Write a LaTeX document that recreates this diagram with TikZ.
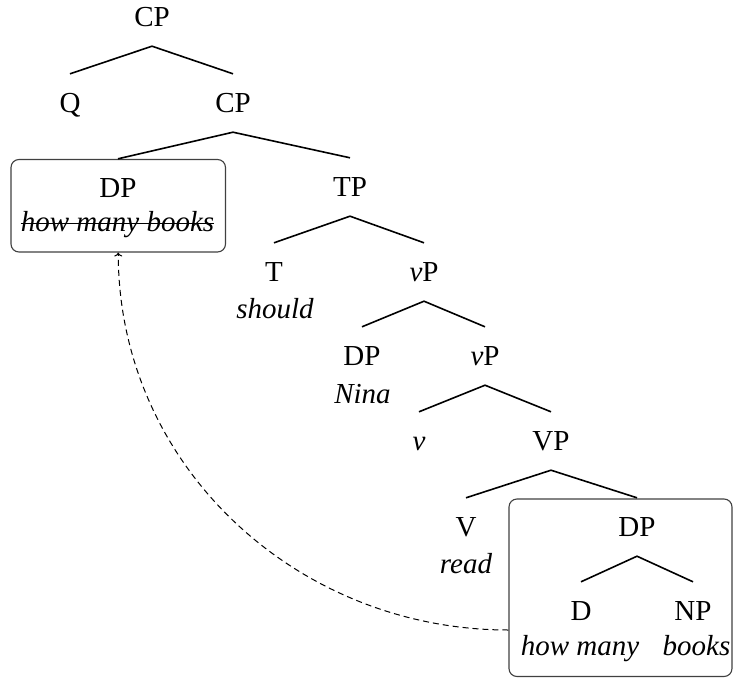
\documentclass[tikz,border=0pt]{standalone}
\usepackage{fontspec}
\setmainfont{Liberation Serif}
\newfontfamily\treefont{Liberation Serif}
\usetikzlibrary{arrows.meta}
\begin{document}
\begin{tikzpicture}[x=1pt,y=-1pt,
  font=\treefont\fontsize{29}{34}\selectfont,
  cat/.style={inner xsep=0pt, inner ysep=19.5pt, text height=19pt, text depth=0pt},
  word/.style={anchor=base, inner sep=0pt, font=\treefont\fontsize{29}{34}\selectfont\itshape},
  branch/.style={line width=1.6pt},
  hbox/.style={draw=black!75, line width=1.1pt, rounded corners=8pt, inner sep=0pt},
  move/.style={dash pattern=on 6pt off 4pt, line width=1pt, -{To[length=4pt,width=8pt]}}]
\useasboundingbox (0,0) rectangle (733,677);

% boxes around the moved phrase and its base position
\node[hbox, minimum width=214.5pt, minimum height=92.5pt] (b1) at (118.25,205.75) {};
\node[hbox, minimum width=223pt, minimum height=177.5pt] (b2) at (620.5,587.75) {};

% category labels
\node[cat] (cp1) at (152,17) {CP};
\node[cat] (q)   at (70,103) {Q};
\node[cat] (cp2) at (233,103) {CP};
\node[cat] (dpa) at (118,188) {DP};
\node[cat] (tp)  at (350,187) {TP};
\node[cat] (t)   at (274,272) {T};
\node[cat] (vp1) at (424,272) {\textit{v}P};
\node[cat] (dpb) at (362,356) {DP};
\node[cat] (vp2) at (485,356) {\textit{v}P};
\node[cat] (v)   at (419,441) {\textit{v}};
\node[cat] (vvp) at (551,441) {VP};
\node[cat] (vv)  at (466,527) {V};
\node[cat] (dpc) at (637,527) {DP};
\node[cat] (d)   at (581,611) {D};
\node[cat] (np)  at (693,611) {NP};

% lexical items
\node[word] (hmb)    at (117.5,231) {how many books};
\node[word] (should) at (275,318) {should};
\node[word] (nina)   at (362.5,403) {Nina};
\node[word] (read)   at (466,573) {read};
\node[word] (howm)   at (580,655) {how many};
\node[word] (books)  at (696.5,655) {books};

% strike-through on the unpronounced copy
\draw[line width=1pt] ([yshift=8pt]hmb.base west) -- ([yshift=8pt]hmb.base east);

% branches
\draw[branch] (q.north) -- (cp1.south) -- (cp2.north);
\draw[branch] (dpa.north) -- (cp2.south) -- (tp.north);
\draw[branch] (t.north) -- (tp.south) -- (vp1.north);
\draw[branch] (dpb.north) -- (vp1.south) -- (vp2.north);
\draw[branch] (v.north) -- (vp2.south) -- (vvp.north);
\draw[branch] (vv.north) -- (vvp.south) -- (dpc.north);
\draw[branch] (d.north) -- (dpc.south) -- (np.north);

% movement arrow
\draw[move] ([yshift=-42.25pt]b2.west) to[out=180,in=-90] (b1.south);
\end{tikzpicture}
\end{document}
